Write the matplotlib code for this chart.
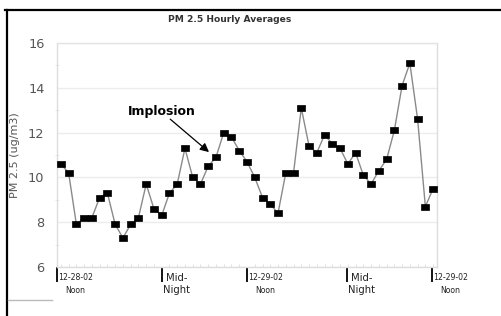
import matplotlib
matplotlib.use("Agg")
import matplotlib.pyplot as plt
from matplotlib.lines import Line2D
from matplotlib.path import Path
import numpy as np

# ---- data ----
pm25 = [10.6, 10.2, 7.9, 8.2, 8.2, 9.1, 9.3, 7.9, 7.3, 7.9,
        8.2, 9.7, 8.6, 8.3, 9.3, 9.7, 11.3, 10.0, 9.7, 10.5,
        10.9, 12.0, 11.8, 11.2, 10.7, 10.0, 9.1, 8.8, 8.4, 10.2,
        10.2, 13.1, 11.4, 11.1, 11.9, 11.5, 11.3, 10.6, 11.1, 10.1,
        9.7, 10.3, 10.8, 12.1, 14.1, 15.1, 12.6, 8.7, 9.5]
hours = list(range(len(pm25)))
tick_positions = [-0.5, 13, 24, 36.9, 47.8]
tick_labels = ["12-28-02\nNoon", "Mid-\nNight", "12-29-02\nNoon", "Mid-\nNight", "12-29-02\nNoon"]
tick_condensed = [True, False, True, False, True]
yticks = [6, 8, 10, 12, 14, 16]
title = "PM 2.5 Hourly Averages"
ylabel = "PM 2.5 (ug/m3)"
annot_text = "Implosion"
annot_target = (19.1, 11.13)
annot_start = (14.1, 12.6)
annot_text_pos = (13.0, 12.92)

W, H = 502, 316
fig = plt.figure(figsize=(W / 100, H / 100), dpi=100)
fig.patch.set_facecolor("white")
ax = fig.add_axes([57 / W, 1 - 267 / H, 380 / W, 224 / H])

rect = Path([(-0.8, -0.5), (0.8, -0.5), (0.8, 0.5), (-0.8, 0.5), (-0.8, -0.5)],
            [Path.MOVETO, Path.LINETO, Path.LINETO, Path.LINETO, Path.CLOSEPOLY])
ax.plot(hours, pm25, color="#8a8a8a", lw=1.0, marker=rect, markersize=6.2,
        markeredgewidth=0.5, markerfacecolor="black", markeredgecolor="black", zorder=3)

ax.set_xlim(-0.5, len(pm25) - 0.5)
ax.set_ylim(6, 16)
ax.set_yticks(yticks)
ax.set_yticks([7, 9, 11, 13, 15], minor=True)
ax.grid(axis="y", which="major", color="#ececec", lw=1.0)
ax.set_axisbelow(True)
for side in ["left", "right", "top", "bottom"]:
    ax.spines[side].set_color("#dddddd")
    ax.spines[side].set_linewidth(1.0)
ax.spines["top"].set_color("#e4e4e4")

ax.tick_params(axis="y", which="major", length=0, pad=9, labelsize=9.3, labelcolor="#555555")
ax.tick_params(axis="y", which="minor", length=3, color="#e0e0e0", direction="inout")

ax.set_xticks(tick_positions)
ax.set_xticklabels([""] * len(tick_positions))
ax.set_xticks(hours, minor=True)
ax.tick_params(axis="x", which="major", length=11, width=1.3, color="black", direction="out")
ax.tick_params(axis="x", which="minor", length=2, color="#dddddd", direction="in")

trans = ax.get_xaxis_transform()
for pos, lab, cond in zip(tick_positions, tick_labels, tick_condensed):
    if cond:
        ax.text(pos + 0.15, -0.025, lab, transform=trans, ha="left", va="top",
                multialignment="center", fontsize=5.6, color="#222222",
                family=["Liberation Sans Narrow", "DejaVu Sans"], linespacing=1.6,
                clip_on=False)
    else:
        ax.text(pos + 0.15, -0.025, lab, transform=trans, ha="left", va="top",
                multialignment="center", fontsize=7.2, color="#222222",
                linespacing=1.3, clip_on=False)

ax.set_ylabel(ylabel, fontsize=8, color="#555555", labelpad=6)

fig.text(230 / W, 1 - 20 / H, title, ha="center", va="center", fontsize=6.6,
         fontweight="bold", color="#333333")

ax.annotate("", xy=annot_target, xytext=annot_start,
            arrowprops=dict(arrowstyle="-|>", color="black", lw=0.9,
                            mutation_scale=13, shrinkA=0, shrinkB=0))
ax.text(annot_text_pos[0], annot_text_pos[1], annot_text, ha="center", va="center",
        fontsize=9, fontweight="bold", color="black")

# outer frame bits
fig.add_artist(Line2D([7 / W, 7 / W], [0, 1 - 10 / H], color="black", lw=1.6))
fig.add_artist(Line2D([5 / W, 1], [1 - 9.5 / H, 1 - 9.5 / H], color="black", lw=1.6))
fig.add_artist(Line2D([8 / W, 52 / W], [1 - 300 / H, 1 - 300 / H], color="#bbbbbb", lw=1.0))

fig.savefig("out.png", dpi=100, facecolor="white")
